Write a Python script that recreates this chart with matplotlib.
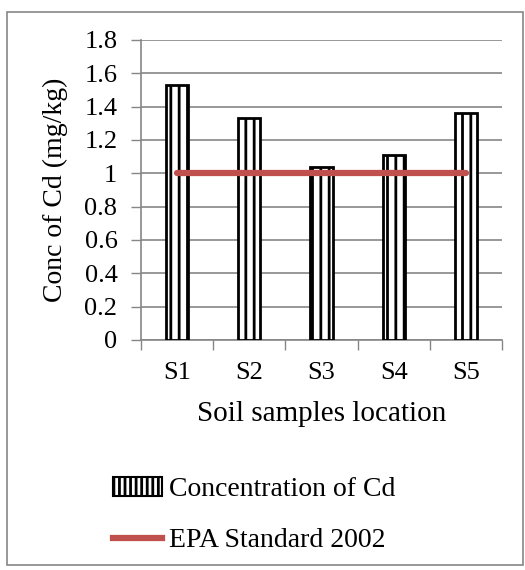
import matplotlib.pyplot as plt
import matplotlib.patches as mpatches
from matplotlib.lines import Line2D

plt.rcParams['font.family'] = ['Liberation Serif', 'DejaVu Serif']
plt.rcParams['hatch.linewidth'] = 2.0

# data
samples = ['S1', 'S2', 'S3', 'S4', 'S5']
cd_conc = [1.53, 1.33, 1.04, 1.11, 1.36]
epa_std = [1, 1, 1, 1, 1]
yticks = [0, 0.2, 0.4, 0.6, 0.8, 1, 1.2, 1.4, 1.6, 1.8]
ytick_labels = ['0', '0.2', '0.4', '0.6', '0.8', '1', '1.2', '1.4', '1.6', '1.8']

grey = '#868686'

fig = plt.figure(figsize=(5.25, 5.7), dpi=100)
ax = fig.add_axes([141 / 525, 1 - 340 / 570, 361 / 525, 300 / 570])

x = list(range(len(samples)))
ax.bar(x, cd_conc, width=0.31, color='white', edgecolor='black',
       linewidth=2, hatch='||', zorder=3)
ax.plot(x, epa_std, color='#c0504d', linewidth=4.5, solid_capstyle='round', zorder=4)

ax.set_xlim(-0.5, 4.5)
ax.set_ylim(0, 1.8)
ax.set_yticks(yticks)
ax.set_yticklabels(ytick_labels)
ax.set_xticks(x)
ax.set_xticklabels(samples)
ax.set_xticks([-0.5, 0.5, 1.5, 2.5, 3.5, 4.5], minor=True)
ax.tick_params(axis='x', which='major', length=0, labelsize=19, pad=16)
ax.tick_params(axis='x', which='minor', length=7, color=grey, width=1)
ax.tick_params(axis='y', length=7, color=grey, width=1, labelsize=19, pad=10)
ax.yaxis.grid(True, color=grey, linewidth=1.2, zorder=0)
ax.set_axisbelow(True)
for side in ['top', 'right']:
    ax.spines[side].set_visible(False)
ax.spines['left'].set_color(grey)
ax.spines['bottom'].set_color(grey)
ax.spines['left'].set_linewidth(1.2)
ax.spines['bottom'].set_linewidth(1.2)

ax.set_ylabel('Conc of Cd (mg/kg)', fontsize=20, labelpad=12)
ax.set_xlabel('Soil samples location', fontsize=21, labelpad=12)

handles = [mpatches.Patch(facecolor='white', edgecolor='black', hatch='|||', linewidth=1.5),
           Line2D([0], [0], color='#c0504d', linewidth=4.5)]
fig.legend(handles, ['Concentration of Cd', 'EPA Standard 2002'],
           loc='upper left', bbox_to_anchor=(113 / 525, 1 - 477 / 570),
           frameon=False, fontsize=20, handlelength=1.75, handletextpad=0.25,
           labelspacing=0.92, borderpad=0, borderaxespad=0)

border = mpatches.Rectangle((7 / 525, 1 - 565 / 570), 516 / 525, 553 / 570,
                            transform=fig.transFigure, fill=False,
                            edgecolor=grey, linewidth=1.2)
fig.patches.append(border)

fig.savefig('out.png', dpi=100)
